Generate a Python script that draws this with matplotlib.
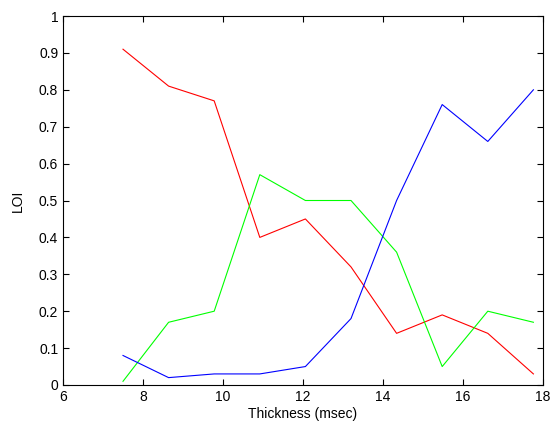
import matplotlib
matplotlib.use("Agg")
import matplotlib.pyplot as plt

# datos
thickness = [7.5, 8.64, 9.78, 10.92, 12.06, 13.2, 14.34, 15.48, 16.62, 17.76]
loi_red = [0.91, 0.81, 0.77, 0.40, 0.45, 0.32, 0.14, 0.19, 0.14, 0.03]
loi_green = [0.01, 0.17, 0.20, 0.57, 0.50, 0.50, 0.36, 0.05, 0.20, 0.17]
loi_blue = [0.08, 0.02, 0.03, 0.03, 0.05, 0.18, 0.50, 0.76, 0.66, 0.80]

plt.rcParams['font.family'] = ['Liberation Sans', 'DejaVu Sans']
plt.rcParams['font.size'] = 10

fig = plt.figure(figsize=(5.51, 4.28), dpi=100)
ax = fig.add_axes([63 / 551, 43 / 428, 480 / 551, 369 / 428])

ax.plot(thickness, loi_red, color='red', lw=0.8)
ax.plot(thickness, loi_green, color='#00ff00', lw=0.8)
ax.plot(thickness, loi_blue, color='blue', lw=0.8)

ax.set_xlim(6, 18)
ax.set_ylim(0, 1)
ax.set_xticks(range(6, 19, 2))
ax.set_yticks([i / 10 for i in range(11)])
ax.set_yticklabels(['0', '0.1', '0.2', '0.3', '0.4', '0.5', '0.6', '0.7', '0.8', '0.9', '1'])
ax.tick_params(direction='in', top=True, right=True, length=4, width=0.8, colors='black', labelsize=10)
for s in ax.spines.values():
    s.set_linewidth(0.8)

ax.set_xlabel('Thickness (msec)', labelpad=2)
ax.set_ylabel('LOI', labelpad=10)

fig.savefig('out.png', dpi=100)
